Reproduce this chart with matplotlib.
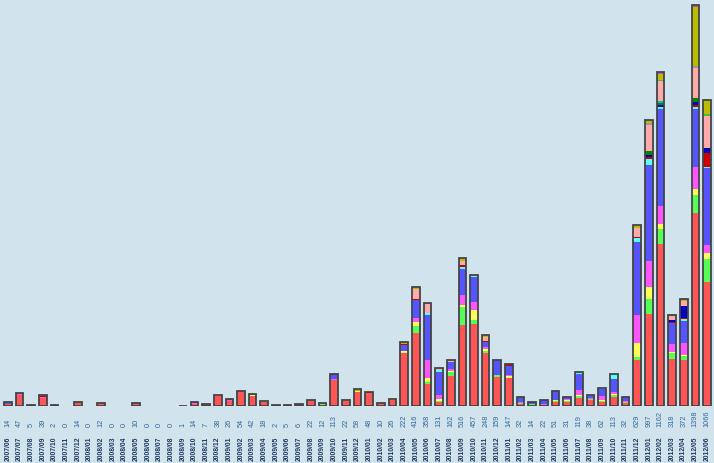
import matplotlib
matplotlib.use("Agg")
import numpy as np
import matplotlib.pyplot as plt
import matplotlib.transforms as mtransforms

months = [
    "2007/06", "2007/07", "2007/08", "2007/09", "2007/10", "2007/11", "2007/12",
    "2008/01", "2008/02", "2008/03", "2008/04", "2008/05", "2008/06", "2008/07",
    "2008/08", "2008/09", "2008/10", "2008/11", "2008/12", "2009/01", "2009/02",
    "2009/03", "2009/04", "2009/05", "2009/06", "2009/07", "2009/08", "2009/09",
    "2009/10", "2009/11", "2009/12", "2010/01", "2010/02", "2010/03", "2010/04",
    "2010/05", "2010/06", "2010/07", "2010/08", "2010/09", "2010/10", "2010/11",
    "2010/12", "2011/01", "2011/02", "2011/03", "2011/04", "2011/05", "2011/06",
    "2011/07", "2011/08", "2011/09", "2011/10", "2011/11", "2011/12", "2012/01",
    "2012/02", "2012/03", "2012/04", "2012/05", "2012/06",
]

# stacked series, bottom to top
red = [6, 40, 5, 27, 2, 0, 14, 0, 12, 0,
       0, 6, 0, 0, 0, 0, 7, 7, 35, 18,
       50, 36, 14, 2, 3, 4, 18, 4, 90, 16,
       48, 46, 10, 20, 184, 256, 78, 14, 104, 282,
       286, 183, 101, 96, 7, 5, 5, 14, 14, 28,
       21, 14, 31, 10, 162, 320, 564, 164, 160, 672,
       432]
green = [0, 0, 0, 0, 0, 0, 0, 0, 0, 0,
         0, 0, 0, 0, 0, 0, 0, 0, 0, 0,
         0, 0, 0, 0, 0, 0, 0, 3, 0, 0,
         0, 0, 0, 0, 0, 21, 7, 3, 14, 63,
         14, 7, 7, 0, 3, 2, 0, 3, 3, 7,
         3, 3, 7, 3, 7, 52, 52, 21, 14, 63,
         80]
yellow = [0, 0, 0, 0, 0, 0, 0, 0, 0, 0,
          0, 0, 0, 0, 0, 0, 0, 0, 0, 0,
          0, 2, 2, 0, 0, 0, 0, 0, 0, 4,
          5, 0, 0, 3, 7, 14, 14, 7, 3, 7,
          35, 10, 0, 10, 0, 0, 0, 3, 3, 3,
          2, 3, 3, 0, 49, 42, 17, 3, 3, 21,
          21]
magenta = [2, 3, 0, 5, 0, 0, 0, 0, 0, 0,
           0, 0, 0, 0, 0, 0, 4, 0, 0, 4,
           2, 0, 0, 0, 0, 0, 2, 2, 5, 0,
           0, 0, 0, 0, 0, 14, 63, 14, 7, 35,
           28, 7, 0, 3, 5, 0, 3, 0, 5, 17,
           3, 14, 7, 3, 98, 91, 63, 28, 42, 77,
           28]
blue = [3, 0, 0, 0, 0, 0, 0, 0, 0, 0,
        0, 4, 0, 0, 0, 1, 3, 0, 0, 4,
        2, 0, 0, 0, 2, 2, 2, 3, 12, 0,
        0, 0, 0, 3, 21, 63, 154, 79, 24, 91,
        87, 17, 49, 31, 17, 7, 14, 31, 6, 55,
        5, 24, 45, 16, 255, 335, 338, 73, 77, 202,
        269]
cyan = [0, 0, 0, 0, 0, 0, 0, 0, 0, 0,
        0, 0, 0, 0, 0, 0, 0, 0, 0, 0,
        0, 0, 0, 0, 0, 0, 0, 0, 0, 0,
        0, 0, 0, 0, 0, 3, 7, 7, 0, 7,
        2, 0, 0, 0, 0, 0, 0, 0, 0, 6,
        0, 3, 17, 0, 14, 21, 7, 0, 7, 7,
        3]
darkred = [0, 0, 0, 2, 0, 0, 0, 0, 0, 0,
           0, 0, 0, 0, 0, 0, 0, 0, 0, 0,
           0, 0, 0, 0, 0, 0, 0, 0, 3, 0,
           0, 2, 0, 0, 3, 3, 0, 0, 3, 7,
           0, 3, 0, 7, 0, 0, 0, 0, 0, 0,
           0, 0, 0, 0, 3, 7, 0, 3, 3, 7,
           49]
darkblue = [0, 0, 0, 0, 0, 0, 0, 0, 0, 0,
            0, 0, 0, 0, 0, 0, 0, 0, 0, 0,
            0, 0, 0, 0, 0, 0, 0, 0, 0, 0,
            0, 0, 0, 0, 0, 0, 0, 0, 0, 0,
            0, 0, 0, 0, 0, 0, 0, 0, 0, 0,
            0, 0, 0, 0, 0, 7, 7, 7, 42, 10,
            17]
darkgreen = [0, 0, 0, 0, 0, 0, 0, 0, 0, 0,
             0, 0, 0, 0, 0, 0, 0, 0, 0, 0,
             0, 0, 0, 0, 0, 0, 0, 0, 0, 0,
             0, 0, 0, 0, 0, 0, 0, 0, 0, 0,
             0, 0, 0, 0, 0, 0, 0, 0, 0, 0,
             0, 0, 0, 0, 0, 14, 7, 0, 0, 14,
             0]
teal = [0, 0, 0, 0, 0, 0, 0, 0, 0, 0,
        0, 0, 0, 0, 0, 0, 0, 0, 0, 0,
        0, 0, 0, 0, 0, 0, 0, 0, 0, 0,
        0, 0, 0, 0, 0, 0, 0, 0, 0, 0,
        0, 0, 0, 0, 0, 0, 0, 0, 0, 0,
        0, 0, 0, 0, 0, 0, 7, 0, 0, 0,
        0]
pink = [0, 0, 0, 0, 0, 0, 0, 0, 0, 0,
        0, 0, 0, 0, 0, 0, 0, 0, 3, 0,
        0, 0, 0, 0, 0, 0, 0, 0, 0, 0,
        0, 0, 0, 0, 0, 35, 35, 7, 7, 14,
        0, 14, 0, 0, 0, 0, 0, 0, 0, 0,
        0, 0, 0, 0, 31, 91, 70, 14, 17, 105,
        112]
grey = [0, 0, 0, 0, 0, 0, 0, 0, 0, 0,
        0, 0, 0, 0, 0, 0, 0, 0, 0, 0,
        0, 0, 0, 0, 0, 0, 0, 0, 0, 0,
        0, 0, 0, 0, 0, 0, 0, 0, 0, 0,
        0, 0, 0, 0, 0, 0, 0, 0, 0, 0,
        0, 0, 0, 0, 0, 7, 0, 0, 0, 7,
        0]
lime = [0, 0, 0, 0, 0, 0, 0, 0, 0, 0,
        0, 0, 0, 0, 0, 0, 0, 0, 0, 0,
        0, 0, 0, 0, 0, 0, 0, 0, 0, 0,
        0, 0, 0, 0, 0, 0, 0, 0, 0, 0,
        0, 0, 0, 0, 0, 0, 0, 0, 0, 0,
        0, 0, 0, 0, 0, 0, 3, 2, 0, 0,
        6]
olive = [3, 4, 0, 5, 0, 0, 0, 0, 0, 0,
         0, 0, 0, 0, 0, 0, 0, 0, 0, 0,
         0, 4, 2, 0, 0, 0, 0, 0, 3, 2,
         5, 0, 0, 0, 7, 7, 0, 0, 0, 10,
         5, 7, 2, 0, 0, 0, 0, 0, 0, 3,
         2, 1, 0, 0, 7, 7, 21, 3, 7, 206,
         49]
purple = [0, 0, 0, 0, 0, 0, 0, 0, 0, 0,
          0, 0, 0, 0, 0, 0, 0, 0, 0, 0,
          0, 0, 0, 0, 0, 0, 0, 0, 0, 0,
          0, 0, 0, 0, 0, 0, 0, 0, 0, 0,
          0, 0, 0, 0, 0, 0, 0, 0, 0, 0,
          0, 0, 0, 0, 0, 0, 3, 0, 0, 3,
          0]
lavender = [0, 0, 0, 0, 0, 0, 0, 0, 0, 0,
            0, 0, 0, 0, 0, 0, 0, 0, 0, 0,
            0, 0, 0, 0, 0, 0, 0, 0, 0, 0,
            0, 0, 0, 0, 0, 0, 0, 0, 0, 0,
            0, 0, 0, 0, 0, 0, 0, 0, 0, 0,
            2, 0, 3, 0, 3, 3, 3, 0, 0, 4,
            0]

series = [red, green, yellow, magenta, blue, cyan, darkred, darkblue,
          darkgreen, teal, pink, grey, lime, olive, purple, lavender]
colors = ["#FF5555", "#55FF55", "#FFFF55", "#FF55FF", "#5555FF", "#55FFFF",
          "#CC0000", "#0000BB", "#008800", "#00BBBB", "#FFAAAA", "#999999",
          "#44BB44", "#BBBB00", "#CC44CC", "#AAAAFF"]

bg = "#D1E3ED"
fig = plt.figure(figsize=(7.14, 4.64), dpi=100, facecolor=bg)
ax = fig.add_axes([0, 57 / 464, 1, 407 / 464])
ax.set_facecolor(bg)

x = np.arange(len(months))
width = 0.66
bottom = np.zeros(len(months))
for vals, c in zip(series, colors):
    vals = np.array(vals, dtype=float)
    ax.bar(x, vals, width=width, bottom=bottom, color=c, linewidth=0)
    bottom += vals

totals = bottom
# outline round each stacked bar
for xi, t in zip(x, totals):
    if t > 0:
        ax.bar(xi, t, width=width, fill=False, edgecolor="#444444", linewidth=1.3)

ax.set_xlim(-8 / 11.65, 60 + 7 / 11.65)
ax.set_ylim(0, 1418)
ax.axis("off")

trans = mtransforms.blended_transform_factory(ax.transData, fig.transFigure)
for xi, t, m in zip(x, totals, months):
    ax.text(xi, 37 / 464, str(int(t)), rotation=90, ha="center", va="bottom",
            fontsize=5.3, color="#35689A", family="Liberation Sans",
            transform=trans, clip_on=False)
    ax.text(xi, 15 / 464, m, rotation=90, ha="center", va="center",
            fontsize=4.9, fontweight="bold", color="#1F3A5F",
            family="Liberation Sans", transform=trans, clip_on=False)

fig.savefig("out.png", dpi=100, facecolor=bg)
